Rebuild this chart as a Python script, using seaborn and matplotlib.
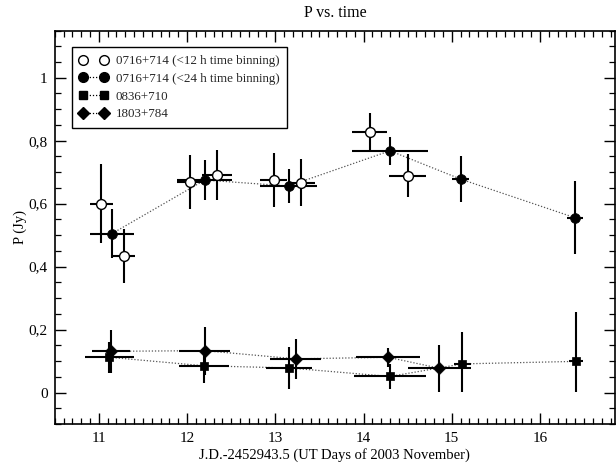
import numpy as np
import matplotlib
matplotlib.use("Agg")
import matplotlib.pyplot as plt
from matplotlib.lines import Line2D
from matplotlib.ticker import MultipleLocator, FuncFormatter
import pandas as pd
import seaborn as sns

# 0716+714, <12 h time binning (open circles)
open_x = [11.03, 11.28, 12.03, 12.34, 12.98, 13.29, 14.07, 14.50]
open_y = [0.600, 0.434, 0.668, 0.692, 0.675, 0.666, 0.827, 0.689]
open_yerr = [0.125, 0.085, 0.085, 0.079, 0.085, 0.075, 0.060, 0.068]
open_xerr = [0.13, 0.125, 0.14, 0.17, 0.15, 0.16, 0.20, 0.21]

# 0716+714, <24 h time binning (filled circles)
filled_x = [11.15, 12.20, 13.15, 14.30, 15.10, 16.40]
filled_y = [0.505, 0.675, 0.656, 0.768, 0.678, 0.555]
filled_yerr = [0.078, 0.064, 0.054, 0.044, 0.073, 0.116]
filled_xerr = [0.25, 0.31, 0.32, 0.43, 0.10, 0.09]

# 0836+710 (squares)
sq_x = [11.12, 12.19, 13.16, 14.30, 15.12, 16.41]
sq_y = [0.112, 0.085, 0.078, 0.051, 0.091, 0.099]
sq_yerr_lo = [0.050, 0.056, 0.066, 0.040, 0.090, 0.098]
sq_yerr_hi = [0.050, 0.056, 0.068, 0.040, 0.102, 0.158]
sq_xerr = [0.28, 0.285, 0.26, 0.41, 0.10, 0.08]

# 1803+784 (diamonds)
dia_x = [11.14, 12.20, 13.23, 14.28, 14.86]
dia_y = [0.131, 0.133, 0.107, 0.112, 0.077]
dia_yerr = [0.068, 0.076, 0.063, 0.031, 0.074]
dia_xerr = [0.215, 0.29, 0.29, 0.36, 0.36]

labels = ["0716+714 (<12 h time binning)", "0716+714 (<24 h time binning)",
          "0836+710", "1803+784"]

sns.set_theme(style="ticks")
plt.rcParams["font.family"] = ["Liberation Serif", "DejaVu Serif"]

fig = plt.figure(figsize=(6.16, 4.66), dpi=100)
ax = fig.add_axes([0.0888, 0.0901, 0.9096, 0.8444])

# error bars first, markers on top
eb = dict(fmt="none", ecolor="black", elinewidth=1.5, capsize=0, zorder=2)
ax.errorbar(open_x, open_y, yerr=open_yerr, xerr=open_xerr, **eb)
ax.errorbar(filled_x, filled_y, yerr=filled_yerr, xerr=filled_xerr, **eb)
ax.errorbar(sq_x, sq_y, yerr=[sq_yerr_lo, sq_yerr_hi], xerr=sq_xerr, **eb)
ax.errorbar(dia_x, dia_y, yerr=dia_yerr, xerr=dia_xerr, **eb)

dot = (0, (1, 1.5))
line_kw = dict(color="#555555", linewidth=0.9, linestyle=dot, zorder=1)

df_f = pd.DataFrame({"x": filled_x, "y": filled_y})
df_s = pd.DataFrame({"x": sq_x, "y": sq_y})
df_d = pd.DataFrame({"x": dia_x, "y": dia_y})
df_o = pd.DataFrame({"x": open_x, "y": open_y})

sns.lineplot(data=df_f, x="x", y="y", sort=False, ax=ax, **line_kw)
sns.lineplot(data=df_s, x="x", y="y", sort=False, ax=ax, **line_kw)
sns.lineplot(data=df_d, x="x", y="y", sort=False, ax=ax, **line_kw)

sns.scatterplot(data=df_o, x="x", y="y", ax=ax, marker="o", s=50,
                facecolor="white", edgecolor="black", linewidth=1.0, zorder=3)
sns.scatterplot(data=df_f, x="x", y="y", ax=ax, marker="o", s=50,
                color="black", edgecolor="black", linewidth=0.5, zorder=3)
sns.scatterplot(data=df_s, x="x", y="y", ax=ax, marker="s", s=40,
                color="black", edgecolor="black", linewidth=0.5, zorder=3)
sns.scatterplot(data=df_d, x="x", y="y", ax=ax, marker="D", s=40,
                color="black", edgecolor="black", linewidth=0.5, zorder=3)

ax.set_xlim(10.5, 16.85)
ax.set_ylim(-0.1, 1.15)
ax.xaxis.set_major_locator(MultipleLocator(1))
ax.xaxis.set_minor_locator(MultipleLocator(0.1))
ax.yaxis.set_major_locator(MultipleLocator(0.2))
ax.yaxis.set_minor_locator(MultipleLocator(0.05))
ax.yaxis.set_major_formatter(FuncFormatter(lambda v, p: f"{v:g}".replace(".", ",")))
ax.xaxis.set_major_formatter(FuncFormatter(lambda v, p: f"{v:g}"))

ax.tick_params(which="both", direction="in", top=True, right=True,
               color="black", labelsize=11, labelcolor="black")
ax.tick_params(which="major", length=8, width=1.0)
ax.tick_params(which="minor", length=4, width=0.9)
ax.tick_params(axis="x", which="major", pad=6)
ax.tick_params(axis="y", which="major", pad=5)
for sp in ax.spines.values():
    sp.set_color("black")
    sp.set_linewidth(1.2)

ax.set_title("P vs. time", fontsize=11.5, color="black", pad=10)
ax.set_xlabel("J.D.-2452943.5 (UT Days of 2003 November)", fontsize=10.5,
              color="black", labelpad=2)
ax.set_ylabel("P (Jy)", fontsize=10.5, color="black", labelpad=1.5)

handles = [
    Line2D([], [], marker="o", markersize=7, markerfacecolor="white",
           markeredgecolor="black", linestyle="none"),
    Line2D([], [], marker="o", markersize=7, color="black", linestyle=dot,
           linewidth=0.9, markeredgecolor="black"),
    Line2D([], [], marker="s", markersize=6, color="black", linestyle=dot,
           linewidth=0.9),
    Line2D([], [], marker="D", markersize=6, color="black", linestyle=dot,
           linewidth=0.9),
]
leg = ax.legend(handles, labels, loc="upper left", bbox_to_anchor=(0.03, 0.957),
                numpoints=2, fontsize=9.4, frameon=True, fancybox=False,
                framealpha=1, edgecolor="black", borderpad=0.6,
                labelspacing=0.42, handlelength=2.2, handletextpad=0.6,
                borderaxespad=0)
leg.get_frame().set_linewidth(1.0)

fig.savefig("out.png", dpi=100)
